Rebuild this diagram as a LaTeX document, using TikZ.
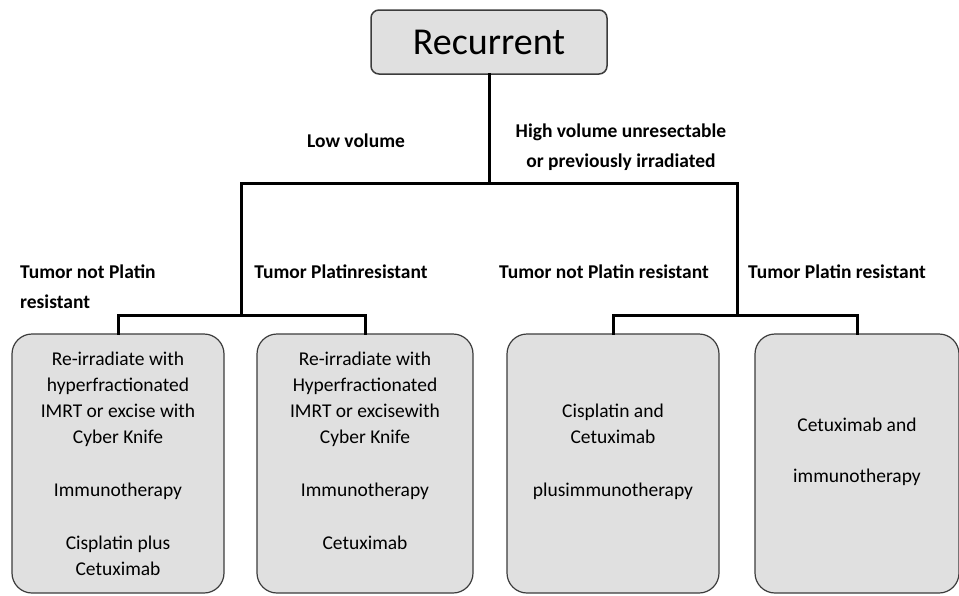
\documentclass[tikz,border=0pt]{standalone}
\usepackage{fontspec}
\setmainfont{Carlito}
\definecolor{boxfill}{HTML}{E0E0E0}
\definecolor{boxline}{HTML}{3C3C3C}
\begin{document}
\begin{tikzpicture}[x=1pt,y=-1pt,
  treat/.style={draw=boxline, line width=1.2pt, fill=boxfill, rounded corners=20pt,
    minimum height=259pt, align=center, inner sep=0pt,
    font=\fontsize{19.5}{26.3}\selectfont},
  lab/.style={font=\bfseries\fontsize{19.5}{30}\selectfont, inner sep=0pt},
  conn/.style={line width=3pt, black, line join=miter, line cap=rect}]
\useasboundingbox (0,0) rectangle (959,595);

\node[draw=boxline, line width=1.5pt, fill=boxfill, rounded corners=8pt,
  minimum width=236pt, minimum height=64pt, inner sep=0pt,
  font=\fontsize{38}{40}\selectfont] (rec) at (489,42) {Recurrent};

\node[treat, minimum width=212pt] (b1) at (118,463.5)
  {Re-irradiate with\\hyperfractionated\\IMRT or excise with\\Cyber Knife\\[26.3pt]Immunotherapy\\[26.3pt]Cisplatin plus\\Cetuximab};
\node[treat, minimum width=216pt] (b2) at (365,463.5)
  {Re-irradiate with\\Hyperfractionated\\IMRT or excisewith\\Cyber Knife\\[26.3pt]Immunotherapy\\[26.3pt]Cetuximab\\\mbox{}};
\node[treat, minimum width=212pt] (b3) at (613,463.5)
  {Cisplatin and\\Cetuximab\\[26.3pt]plusimmunotherapy\\\mbox{}};
\node[treat, minimum width=204pt] (b4) at (857,463.5)
  {Cetuximab and\\[24pt]immunotherapy\\[0pt]\mbox{}};

\coordinate (jL) at (241,183);
\coordinate (jR) at (737,183);
\coordinate (kL) at (241,315);
\coordinate (kR) at (737,315);

\draw[conn] (rec.south) -- (rec.south |- jL);
\draw[conn] (kL) -- (jL) -- (jR) -- (kR);
\draw[conn] (b1.north) -- (b1.north |- kL) -- (b2.north |- kL) -- (b2.north);
\draw[conn] (b3.north) -- (b3.north |- kR) -- (b4.north |- kR) -- (b4.north);

\node[lab] (lv) at (356,141) {Low volume};
\node[lab, align=center] (hv) at (621,147) {High volume unresectable\\or previously irradiated};
\node[lab, align=left, anchor=west] (t1) at (20,287) {Tumor not Platin\\resistant};
\node[lab] (t2) at (341,272) {Tumor Platinresistant};
\node[lab] (t3) at (604,272) {Tumor not Platin resistant};
\node[lab] (t4) at (837,272) {Tumor Platin resistant};
\end{tikzpicture}
\end{document}
